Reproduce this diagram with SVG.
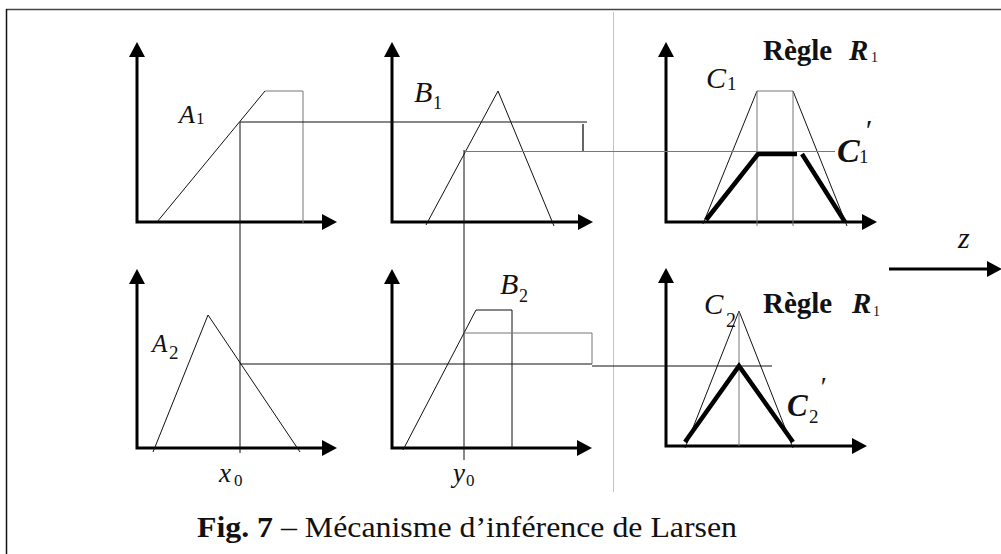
<svg xmlns="http://www.w3.org/2000/svg" width="1001" height="554" viewBox="0 0 1001 554">
<style>
.ax{fill:none;stroke:#000;stroke-width:3;marker-start:url(#ah);marker-end:url(#ah)}
.ln{fill:none;stroke:#111;stroke-width:1}
.gr{fill:none;stroke:#777;stroke-width:1}
.tk{fill:none;stroke:#000;stroke-width:4.5;stroke-linecap:butt;stroke-linejoin:miter}
.t{font-family:"Liberation Serif","Times New Roman",serif;fill:#111}
.i{font-style:italic}
.b{font-weight:bold}
</style>
<defs>
<marker id="ah" markerUnits="userSpaceOnUse" viewBox="0 -8 16 16" markerWidth="16" markerHeight="16" refX="0" refY="0" orient="auto-start-reverse">
<path d="M0,-8 L15,0 L0,8 z" fill="#000"/>
</marker>
</defs>
<rect x="0" y="0" width="1001" height="554" fill="#fff"/>
<g id="frame">
<path d="M6,9.5 H1001" stroke="#444" stroke-width="1.5" fill="none"/>
<path d="M6.5,9 V554" stroke="#111" stroke-width="1.5" fill="none"/>
<path d="M613.5,12 V492" stroke="#c4c4c4" stroke-width="1" fill="none"/>
</g>
<g id="axes">
<path class="ax" d="M137,57 V222 H322"/>
<path class="ax" d="M392,57 V222 H578"/>
<path class="ax" d="M666,57 V222 H862"/>
<path class="ax" d="M137,284 V448 H322"/>
<path class="ax" d="M392,284 V448 H577"/>
<path class="ax" d="M666,283 V446 H852"/>
<path d="M889,269 H987" stroke="#000" stroke-width="3" fill="none" marker-end="url(#ah)"/>
</g>
<g id="node-A1">
<path class="ln" d="M157,222 L265,91"/>
<path class="gr" d="M265,91 H303 V224"/>
<text class="t i" x="179" y="123" font-size="26">A</text><text class="t" x="196" y="124" font-size="17">1</text>
</g>
<g id="node-B1">
<path class="ln" d="M426,225 L498,91 L554,226"/>
<text class="t i" x="414" y="102" font-size="30">B</text><text class="t" x="433" y="109" font-size="18">1</text>
</g>
<g id="node-C1">
<path class="ln" d="M703,224 L757,91"/>
<path class="gr" d="M757,91 H793"/>
<path class="ln" d="M793,91 L847,226"/>
<path class="gr" d="M757,91 V226 M793,91 V226"/>
<path class="tk" d="M706,220 L758,154 H797 M802,154 L845,222"/>
<text class="t i" x="706" y="88" font-size="30">C</text><text class="t" x="727" y="90" font-size="19">1</text>
<text class="t b" x="763" y="60" font-size="29">Règle</text><text class="t b i" x="849" y="60" font-size="29">R</text><text class="t" x="871" y="62" font-size="14">1</text>
<text class="t b i" x="837" y="162" font-size="34">C</text><text class="t" x="859" y="163" font-size="19">1</text><text class="t i" x="864" y="140" font-size="30">′</text>
</g>
<g id="node-A2">
<path class="ln" d="M153,452 L208,315 L300,452"/>
<text class="t i" x="152" y="352" font-size="25">A</text><text class="t" x="169" y="359" font-size="19">2</text>
</g>
<g id="node-B2">
<path class="ln" d="M403,450 L476,310 H512 V448"/>
<text class="t i" x="500" y="294" font-size="30">B</text><text class="t" x="519" y="302" font-size="18">2</text>
</g>
<g id="node-C2">
<path class="ln" d="M685,448 L739,311 L793,448"/>
<path class="gr" d="M739,311 V446"/>
<path class="tk" d="M685,442 L739,366 L793,442"/>
<text class="t i" x="704" y="314" font-size="29">C</text><text class="t" x="726" y="327" font-size="20">2</text>
<text class="t b" x="763" y="313" font-size="29">Règle</text><text class="t b i" x="852" y="313" font-size="29">R</text><text class="t" x="873" y="316" font-size="14">1</text>
<text class="t b i" x="787" y="416" font-size="31">C</text><text class="t" x="809" y="423" font-size="19">2</text><text class="t i" x="819" y="396" font-size="28">′</text>
</g>
<g id="node-z">
<text class="t i" x="958" y="248" font-size="30">z</text>
</g>
<g id="connectors">
<path class="ln" d="M240,122 V453 M240,122 H587"/>
<path d="M583,124 V152" stroke="#333" stroke-width="1.5" fill="none"/>
<path class="gr" d="M464,151.5 H835"/>
<path class="ln" d="M464,150 V460"/>
<path class="ln" d="M240,364 H592"/>
<path class="gr" d="M464,333 H592 V364"/>
<path class="ln" d="M592,366 H772"/>
</g>
<g id="labels">
<text class="t i" x="219" y="482" font-size="27">x</text><text class="t" x="234" y="486" font-size="17">0</text>
<text class="t i" x="453" y="482" font-size="27">y</text><text class="t" x="466" y="486" font-size="17">0</text>
<text class="t" x="197" y="537" font-size="29" textLength="540" lengthAdjust="spacingAndGlyphs"><tspan class="b">Fig. 7</tspan> – Mécanisme d’inférence de Larsen</text>
</g>
</svg>
